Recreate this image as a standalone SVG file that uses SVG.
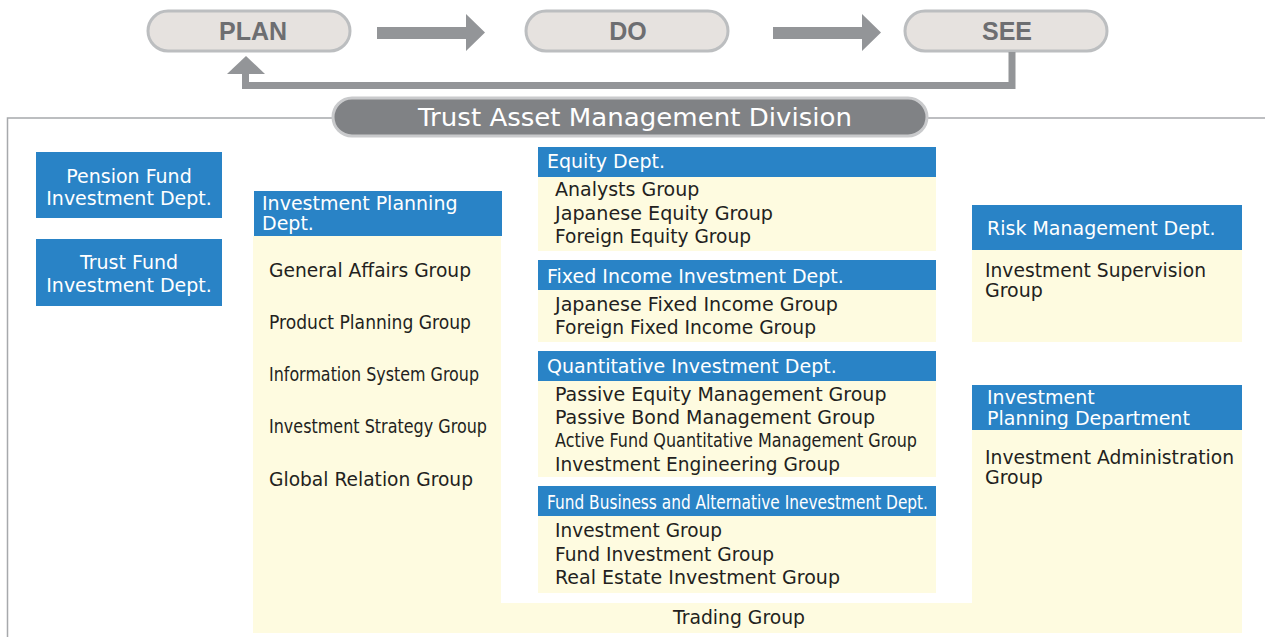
<svg xmlns="http://www.w3.org/2000/svg" width="1265" height="637" viewBox="0 0 1265 637">
<style>
.pill{fill:#e6e2df;stroke:#bcbec0;stroke-width:3}
.pt{font-family:"Liberation Sans",Arial,sans-serif;font-weight:bold;font-size:25px;fill:#6d6e71;text-anchor:middle}
.blue{fill:#2983c6}
.yel{fill:#fefbe0}
.ht{font-family:"DejaVu Sans",sans-serif;font-size:19px;fill:#ffffff}
.gt{font-family:"DejaVu Sans",sans-serif;font-size:19px;fill:#231f20}
.frame{fill:none;stroke:#a7a9ac;stroke-width:1.5}
.arw{fill:#939598}
</style>
<rect width="1265" height="637" fill="#ffffff"/>

<!-- frame lines -->
<g id="frame">
<path class="frame" d="M333 118 H7.5 V637"/>
<path class="frame" d="M927 118 H1265"/>
</g>

<!-- background yellow regions -->
<g id="backgrounds">
<rect class="yel" x="253" y="236" width="248" height="397"/>
<rect class="yel" x="253" y="603" width="989" height="30"/>
</g>

<!-- PDCA pills -->
<g id="plan"><rect class="pill" x="148" y="11" width="202" height="40" rx="20"/><text class="pt" x="253" y="40">PLAN</text></g>
<g id="do"><rect class="pill" x="526" y="11" width="202" height="40" rx="20"/><text class="pt" x="628" y="40">DO</text></g>
<g id="see"><rect class="pill" x="905" y="11" width="202" height="40" rx="20"/><text class="pt" x="1007" y="40">SEE</text></g>

<g id="connectors">
<polygon class="arw" points="377,27 466,27 466,14 485,32.5 466,51 466,39 377,39"/>
<polygon class="arw" points="773,27 862,27 862,14 881,32.5 862,51 862,39 773,39"/>
<path d="M1012 52 V85.5 H245.5 V72" fill="none" stroke="#939598" stroke-width="7"/>
<polygon class="arw" points="246,56 265,74 227,74"/>
</g>

<!-- Title -->
<g id="title">
<rect x="333" y="98" width="594" height="38" rx="19" fill="#808285" stroke="#c9cacc" stroke-width="3"/>
<text x="418" y="126" font-family="DejaVu Sans, sans-serif" font-size="25" fill="#ffffff" textLength="434" lengthAdjust="spacingAndGlyphs">Trust Asset Management Division</text>
</g>

<!-- Left boxes -->
<g id="pension">
<rect class="blue" x="36" y="152" width="186" height="66"/>
<text class="ht" x="129" y="183" text-anchor="middle">Pension Fund</text>
<text class="ht" x="129" y="205" text-anchor="middle">Investment Dept.</text>
</g>
<g id="trust">
<rect class="blue" x="36" y="239" width="186" height="67"/>
<text class="ht" x="129" y="269" text-anchor="middle">Trust Fund</text>
<text class="ht" x="129" y="292" text-anchor="middle">Investment Dept.</text>
</g>

<!-- Investment Planning Dept. -->
<g id="ipdept">
<rect class="blue" x="254" y="191" width="248" height="45"/>
<text class="ht" x="262" y="210">Investment Planning</text>
<text class="ht" x="262" y="230">Dept.</text>
<text class="gt" x="269" y="277" textLength="202" lengthAdjust="spacingAndGlyphs">General Affairs Group</text>
<text class="gt" x="269" y="329" textLength="202" lengthAdjust="spacingAndGlyphs">Product Planning Group</text>
<text class="gt" x="269" y="381" textLength="210" lengthAdjust="spacingAndGlyphs">Information System Group</text>
<text class="gt" x="269" y="433" textLength="218" lengthAdjust="spacingAndGlyphs">Investment Strategy Group</text>
<text class="gt" x="269" y="486" textLength="204" lengthAdjust="spacingAndGlyphs">Global Relation Group</text>
</g>

<!-- Equity -->
<g id="equity">
<rect class="blue" x="538" y="147" width="398" height="30"/>
<rect class="yel" x="538" y="177" width="398" height="74"/>
<text class="ht" x="547" y="168">Equity Dept.</text>
<text class="gt" x="555" y="196">Analysts Group</text>
<text class="gt" x="555" y="220" textLength="218" lengthAdjust="spacingAndGlyphs">Japanese Equity Group</text>
<text class="gt" x="555" y="243" textLength="196" lengthAdjust="spacingAndGlyphs">Foreign Equity Group</text>
</g>

<!-- Fixed Income -->
<g id="fixedincome">
<rect class="blue" x="538" y="260" width="398" height="30"/>
<rect class="yel" x="538" y="290" width="398" height="52"/>
<text class="ht" x="547" y="283">Fixed Income Investment Dept.</text>
<text class="gt" x="555" y="311" textLength="283" lengthAdjust="spacingAndGlyphs">Japanese Fixed Income Group</text>
<text class="gt" x="555" y="334" textLength="261" lengthAdjust="spacingAndGlyphs">Foreign Fixed Income Group</text>
</g>

<!-- Quantitative -->
<g id="quant">
<rect class="blue" x="538" y="351" width="398" height="30"/>
<rect class="yel" x="538" y="381" width="398" height="96"/>
<text class="ht" x="547" y="373">Quantitative Investment Dept.</text>
<text class="gt" x="555" y="401">Passive Equity Management Group</text>
<text class="gt" x="555" y="424">Passive Bond Management Group</text>
<text class="gt" x="555" y="447" textLength="362" lengthAdjust="spacingAndGlyphs">Active Fund Quantitative Management Group</text>
<text class="gt" x="555" y="471" textLength="285" lengthAdjust="spacingAndGlyphs">Investment Engineering Group</text>
</g>

<!-- Fund Business -->
<g id="fundbusiness">
<rect class="blue" x="538" y="486" width="398" height="30"/>
<rect class="yel" x="538" y="516" width="398" height="77"/>
<text class="ht" x="547" y="509" textLength="381" lengthAdjust="spacingAndGlyphs">Fund Business and Alternative Inevestment Dept.</text>
<text class="gt" x="555" y="537" textLength="167" lengthAdjust="spacingAndGlyphs">Investment Group</text>
<text class="gt" x="555" y="561" textLength="219" lengthAdjust="spacingAndGlyphs">Fund Investment Group</text>
<text class="gt" x="555" y="584" textLength="285" lengthAdjust="spacingAndGlyphs">Real Estate Investment Group</text>
</g>

<!-- Trading -->
<g id="trading">
<text class="gt" x="739" y="624" text-anchor="middle" textLength="132" lengthAdjust="spacingAndGlyphs">Trading Group</text>
</g>

<!-- Risk Management -->
<g id="risk">
<rect class="blue" x="972" y="205" width="270" height="45"/>
<rect class="yel" x="972" y="250" width="270" height="92"/>
<text class="ht" x="987" y="235">Risk Management Dept.</text>
<text class="gt" x="985" y="277" textLength="221" lengthAdjust="spacingAndGlyphs">Investment Supervision</text>
<text class="gt" x="985" y="297">Group</text>
</g>

<!-- Investment Planning Department -->
<g id="ipdepartment">
<rect class="blue" x="972" y="385" width="270" height="45"/>
<rect class="yel" x="972" y="430" width="270" height="203"/>
<text class="ht" x="987" y="404">Investment</text>
<text class="ht" x="987" y="425">Planning Department</text>
<text class="gt" x="985" y="464" textLength="249" lengthAdjust="spacingAndGlyphs">Investment Administration</text>
<text class="gt" x="985" y="484">Group</text>
</g>
</svg>
